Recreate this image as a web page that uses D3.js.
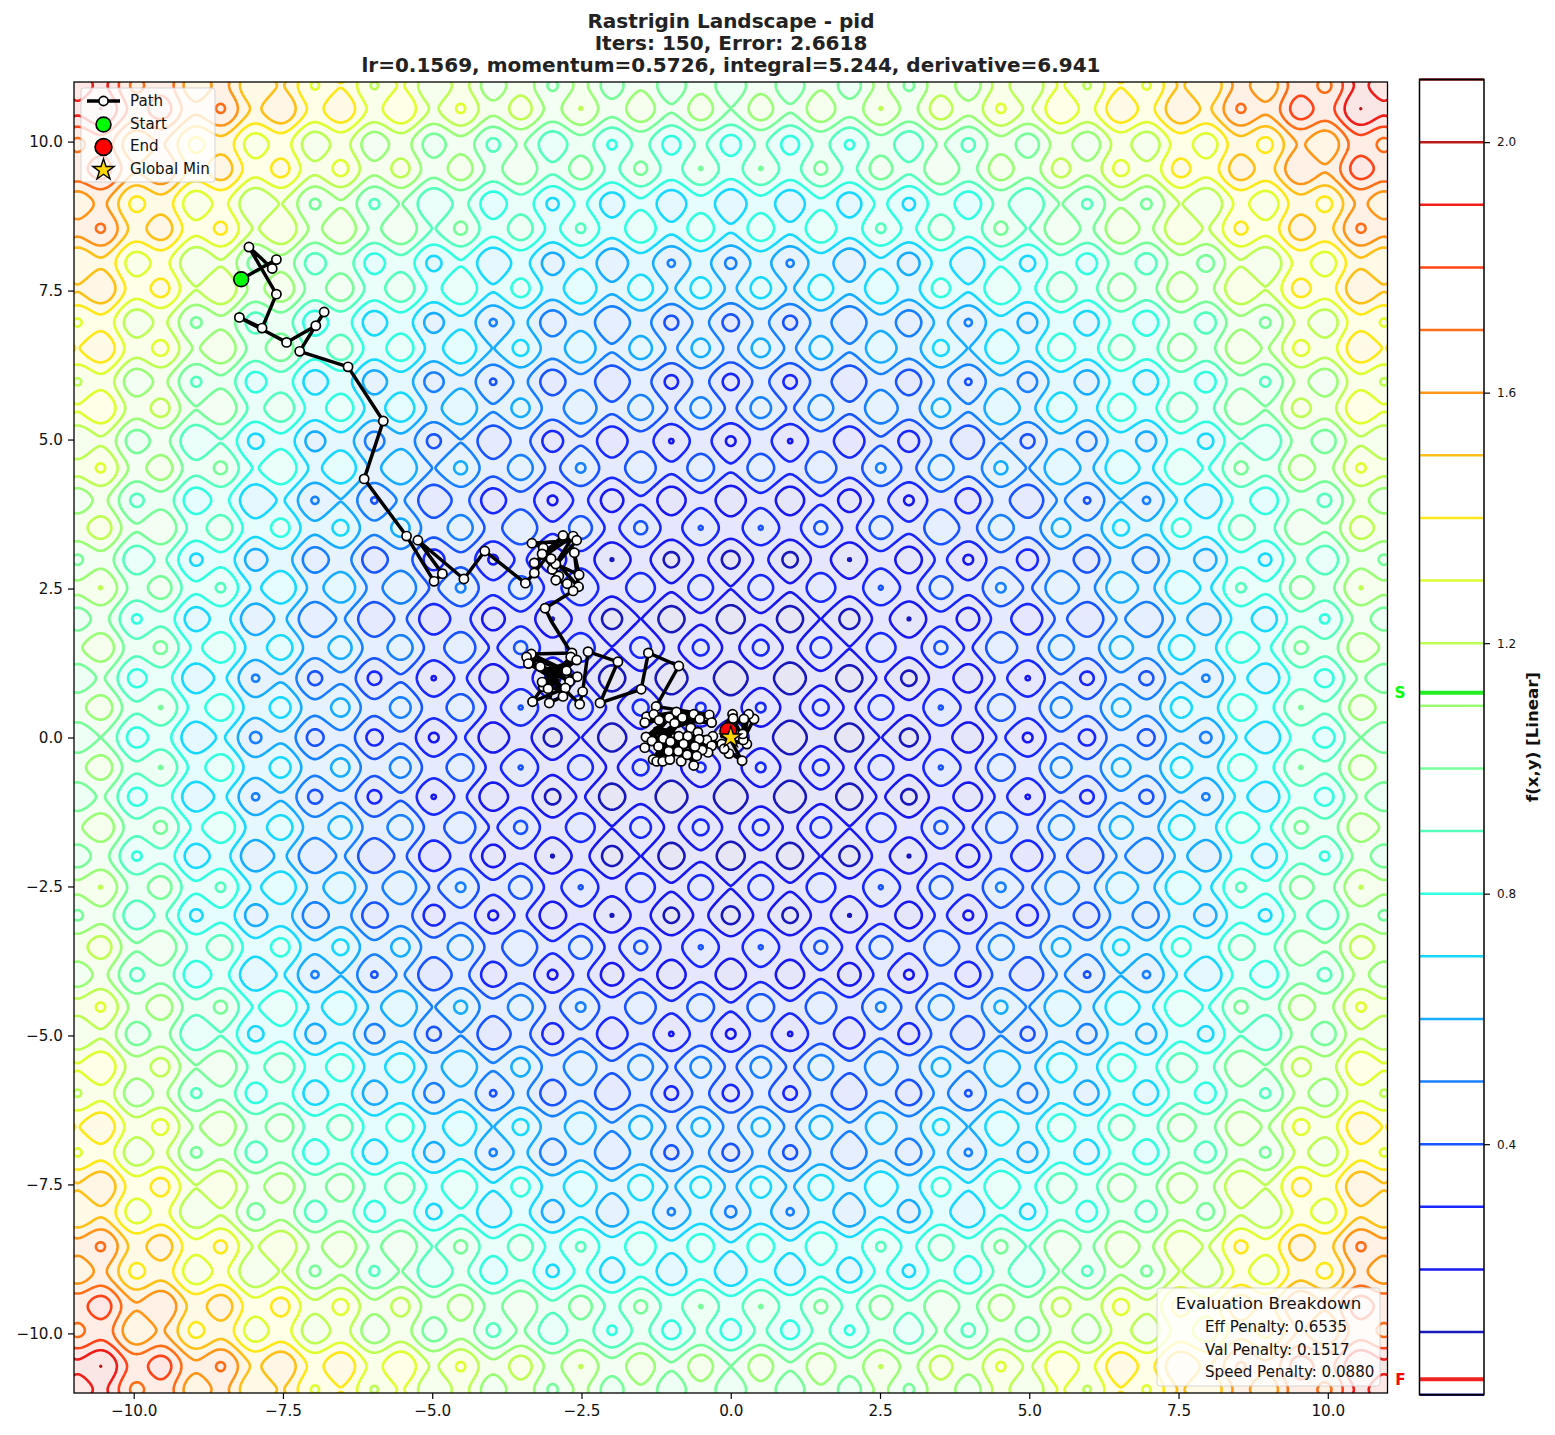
<!DOCTYPE html>
<html>
<head>
<meta charset="utf-8">
<script src="https://cdn.jsdelivr.net/npm/d3@7/dist/d3.min.js"></script>
<style>
  html, body { margin: 0; background: #fff; }
  text { font-family: "DejaVu Sans", sans-serif; fill: #111; }
</style>
</head>
<body>
<svg id="chart" width="1555" height="1435"></svg>
<script>
// Optimiser trajectory over the Rastrigin surface.
const titleLines = ["Rastrigin Landscape - pid", "Iters: 150, Error: 2.6618",
  "lr=0.1569, momentum=0.5726, integral=5.244, derivative=6.941"];

const pathX = [-8.20,-7.61,-7.68,-8.07,-7.61,-7.85,-8.23,-7.44,-6.95,-6.81,-7.22,-6.41,-5.82,-6.14,-5.43,-4.97,-4.83,-5.24,-4.47,-4.12,-3.44,
  -3.29,-2.81,-3.29,-2.64,-2.99,-2.58,-3.33,-3.14,-2.55,-2.62,-2.54,-2.93,-3.16,-2.88,-3.01,-2.93,-2.74,-2.64,-3.11,-3.01,-2.73,
  -2.66,-3.34,-2.75,-3.42,-2.98,-3.39,-2.93,-2.68,-3.06,-2.58,-3.11,-2.57,-3.19,-2.70,-3.03,-3.14,-2.86,-3.16,-2.90,-3.06,-2.77,-3.32,-2.95,-3.04,-2.81,-3.00,-2.53,-2.48,
  -2.39,-1.89,-2.19,-1.50,-1.38,-0.87,-1.25,
  -0.36,-1.41,-0.91,-1.44,-0.62,-1.29,-0.32,-1.20,-0.52,-1.42,-1.03,-1.44,-0.81,-1.30,-0.94,-1.24,-0.67,-1.14,-0.55,-1.02,-1.32,-0.30,-1.13,-0.40,-1.01,-0.32,-1.21,-0.53,-1.04,-0.38,-0.87,-0.83,-0.72,-0.62,-0.79,-0.48,-0.88,-0.57,-0.60,-0.73,
  -1.19,-1.05,-1.27,-0.15,-0.03,-0.11,0.19,0.00,0.27,0.07,0.39,0.21,0.30,0.20,0.22,-0.10,0.03,-0.15,0.04,-0.04];
const pathY = [7.69,8.02,7.87,8.23,7.44,6.87,7.05,6.63,6.91,7.14,6.48,6.22,5.31,4.34,3.38,2.62,2.75,3.31,2.66,3.13,2.59,
  2.76,3.39,2.93,3.38,2.82,3.31,3.26,3.18,2.53,3.10,2.73,2.91,3.08,2.71,3.00,2.64,2.58,2.46,2.17,1.96,1.51,
  1.42,1.40,1.12,1.35,0.99,1.24,1.09,1.35,0.92,1.30,1.12,1.02,1.19,0.94,1.16,0.85,1.04,0.93,0.96,0.82,0.83,0.60,1.12,0.58,0.69,1.02,0.56,0.77,
  1.44,1.27,0.58,0.81,1.42,1.20,0.52,
  0.38,0.35,0.43,0.25,0.39,0.39,0.25,0.29,0.31,0.01,0.33,-0.17,0.33,-0.37,0.24,-0.40,0.16,-0.40,0.09,-0.37,-0.06,0.02,-0.02,-0.04,-0.07,-0.14,-0.15,-0.03,-0.23,-0.25,0.02,-0.40,0.02,-0.47,-0.11,-0.21,-0.23,-0.31,-0.15,-0.29,
  -0.22,0.12,0.15,-0.11,-0.27,-0.19,-0.39,-0.05,-0.11,0.25,0.31,-0.04,0.39,0.06,0.31,0.20,0.39,0.02,0.32,0.11];
// Path vertices drawn without a marker.
const unmarkedSteps = [40,41,46,48,50,52,56,58,60,64,67,117,118,119,124,126,132,134];

const globalMin = [0, 0];
const levelValues = [0,0.1,0.2,0.3,0.4,0.5,0.6,0.7,0.8,0.9,1.0,1.1,1.2,1.3,1.4,1.5,1.6,1.7,1.8,1.9,2.0,2.1];
const colorbarTicks = [0.4, 0.8, 1.2, 1.6, 2.0];
const axisTicks = [-10, -7.5, -5, -2.5, 0, 2.5, 5, 7.5, 10];
const startLevel = 1.121, endLevel = 0.0245;
const legendLabels = ["Path", "Start", "End", "Global Min"];
const breakdownTitle = "Evaluation Breakdown";
const breakdownLines = ["Eff Penalty: 0.6535", "Val Penalty: 0.1517", "Speed Penalty: 0.0880"];
const colorbarLabel = "f(x,y) [Linear]";

// Surface parameters: the stated test function, normalised by half its peak height.
const rastriginA = 10, normaliser = 130.8, gridStep = 0.025, gridLimit = 11.05;

const svg = d3.select("#chart");
const x = d3.scaleLinear([-11, 11], [74, 1387.5]);
const y = d3.scaleLinear([-11, 11], [1393, 82]);
const cbY = d3.scaleLinear([0, 2.1], [1394.7, 79.5]);

// matplotlib's jet segments
const chan = (d, r) => d3.scaleLinear(d, r).clamp(true);
const jetR = chan([0,.35,.66,.89,1],[0,0,1,1,.5]);
const jetG = chan([0,.125,.375,.64,.91,1],[0,0,1,1,0,0]);
const jetB = chan([0,.11,.34,.65,1],[.5,1,1,0,0]);
const jet = (level, alpha = 1) => {
  const t = level / 2.1;
  const mix = c => Math.round(255 * (1 - alpha) + 255 * c * alpha);
  return `rgb(${mix(jetR(t))},${mix(jetG(t))},${mix(jetB(t))})`;
};

// Sample the surface on a grid reaching just past the frame, so that the
// closing edges of the contour polygons fall outside the clip rectangle.
const n = Math.round(2 * gridLimit / gridStep) + 1;
const field = new Float64Array(n * n);
const rast = v => v * v + rastriginA - rastriginA * Math.cos(2 * Math.PI * v);
for (let j = 0; j < n; j++) for (let i = 0; i < n; i++) {
  field[j * n + i] = (rast(-gridLimit + i * gridStep) + rast(-gridLimit + j * gridStep)) / normaliser;
}
const contours = d3.contours().size([n, n]).thresholds(levelValues)(field);
const gridToX = c => x(-gridLimit + (c - 0.5) * gridStep);
const gridToY = c => y(-gridLimit + (c - 0.5) * gridStep);
const geo = d3.geoPath(d3.geoTransform({
  point(a, b) { this.stream.point(gridToX(a), gridToY(b)); }
}));

svg.append("defs").append("clipPath").attr("id", "frame").append("rect")
  .attr("x", x(-11)).attr("y", y(11)).attr("width", x(11) - x(-11)).attr("height", y(-11) - y(11));

const plot = svg.append("g").attr("clip-path", "url(#frame)");
plot.append("g").selectAll("path").data(contours).join("path")
  .attr("d", geo)
  .attr("fill", (d, i) => jet((levelValues[i] + (levelValues[i + 1] ?? 2.2)) / 2, 0.1));
plot.append("g").selectAll("path").data(contours).join("path")
  .attr("d", geo)
  .attr("fill", "none")
  .attr("stroke", d => jet(d.value))
  .attr("stroke-opacity", 0.9)
  .attr("stroke-width", 2.6)
  .attr("stroke-linejoin", "round");

// Trajectory
const line = d3.line().x(d => x(d[0])).y(d => y(d[1]));
const pts = pathX.map((v, i) => [v, pathY[i]]);
const hidden = new Set(unmarkedSteps);
plot.append("path").attr("d", line(pts)).attr("fill", "none")
  .attr("stroke", "#000").attr("stroke-width", 3.5).attr("stroke-linejoin", "round");
plot.append("g").selectAll("circle").data(pts.filter((d, i) => !hidden.has(i))).join("circle")
  .attr("cx", d => x(d[0])).attr("cy", d => y(d[1])).attr("r", 4.6)
  .attr("fill", "#fff").attr("stroke", "#000").attr("stroke-width", 1.7);

const marker = (g, cx, cy, fill, r) => g.append("circle").attr("cx", cx).attr("cy", cy).attr("r", r)
  .attr("fill", fill).attr("stroke", "#000").attr("stroke-width", 1.7);
const star = (g, cx, cy, size) => g.append("path").attr("d", d3.symbol(d3.symbolStar, size)())
  .attr("transform", `translate(${cx},${cy})`)
  .attr("fill", "#ffd700").attr("stroke", "#000").attr("stroke-width", 1.4);
marker(plot, x(pts[0][0]), y(pts[0][1]), "#00ff00", 7.4);
marker(plot, x(pts[pts.length - 1][0]), y(pts[pts.length - 1][1]), "#ff0000", 8.4);
star(plot, x(globalMin[0]), y(globalMin[1]), 140);

// Frame and axes
svg.append("rect").attr("x", x(-11)).attr("y", y(11)).attr("width", x(11) - x(-11)).attr("height", y(-11) - y(11))
  .attr("fill", "none").attr("stroke", "#000").attr("stroke-width", 1.3);
const fmt = v => d3.format(".1f")(v).replace("-", "\u2212");
const xAxis = svg.append("g").attr("transform", `translate(0,${y(-11)})`)
  .call(d3.axisBottom(x).tickValues(axisTicks).tickFormat(fmt).tickSize(6).tickPadding(6));
const yAxis = svg.append("g").attr("transform", `translate(${x(-11)},0)`)
  .call(d3.axisLeft(y).tickValues(axisTicks).tickFormat(fmt).tickSize(6).tickPadding(5));
for (const a of [xAxis, yAxis]) {
  a.select(".domain").remove();
  a.selectAll("line").attr("stroke", "#000").attr("stroke-width", 1.2);
  a.selectAll("text").attr("font-size", 15.2).attr("fill", "#111")
    .style("font-family", '"DejaVu Sans", sans-serif');
}

// Title
svg.append("g").selectAll("text").data(titleLines).join("text")
  .attr("x", 731).attr("y", (d, i) => 27.5 + i * 22.2)
  .attr("text-anchor", "middle").attr("font-size", 20).attr("font-weight", "bold")
  .attr("fill", "#222").style("fill", "#222").text(d => d);

// Legend
const lg = svg.append("g");
lg.append("rect").attr("x", 81).attr("y", 88).attr("width", 134).attr("height", 94).attr("rx", 3)
  .attr("fill", "#fff").attr("fill-opacity", 0.8).attr("stroke", "#ccc").attr("stroke-opacity", 0.8);
lg.selectAll("text").data(legendLabels).join("text")
  .attr("x", 130).attr("y", (d, i) => 106 + i * 22.7).attr("font-size", 15.1).text(d => d);
lg.append("line").attr("x1", 87).attr("x2", 120).attr("y1", 101).attr("y2", 101)
  .attr("stroke", "#000").attr("stroke-width", 3.5);
lg.append("circle").attr("cx", 103.5).attr("cy", 101).attr("r", 4.6)
  .attr("fill", "#fff").attr("stroke", "#000").attr("stroke-width", 1.7);
marker(lg, 103.5, 124.5, "#00ff00", 7.4);
marker(lg, 103.5, 147, "#ff0000", 8.4);
star(lg, 103.5, 170, 140);

// Evaluation box
const bd = svg.append("g");
bd.append("rect").attr("x", 1157).attr("y", 1288).attr("width", 223).attr("height", 98).attr("rx", 3)
  .attr("fill", "#fff").attr("fill-opacity", 0.8).attr("stroke", "#ccc").attr("stroke-opacity", 0.8);
bd.append("text").attr("x", 1268.5).attr("y", 1309).attr("text-anchor", "middle")
  .attr("font-size", 16.6).text(breakdownTitle);
bd.selectAll(".row").data(breakdownLines).join("text").attr("class", "row")
  .attr("x", 1205).attr("y", (d, i) => 1332 + i * 22.7).attr("font-size", 15.1).text(d => d);

// Colourbar
const cb = svg.append("g");
const cbLeft = 1419.5, cbRight = 1484;
cb.selectAll(".lv").data(levelValues).join("line").attr("class", "lv")
  .attr("x1", cbLeft).attr("x2", cbRight).attr("y1", d => cbY(d)).attr("y2", d => cbY(d))
  .attr("stroke", d => jet(d)).attr("stroke-opacity", 0.9).attr("stroke-width", 2.5);
cb.append("line").attr("x1", cbLeft).attr("x2", cbRight).attr("y1", cbY(startLevel)).attr("y2", cbY(startLevel))
  .attr("stroke", "#22ee22").attr("stroke-width", 4);
cb.append("line").attr("x1", cbLeft).attr("x2", cbRight).attr("y1", cbY(endLevel)).attr("y2", cbY(endLevel))
  .attr("stroke", "#ee2222").attr("stroke-width", 4);
cb.append("rect").attr("x", cbLeft).attr("y", cbY(2.1)).attr("width", cbRight - cbLeft).attr("height", cbY(0) - cbY(2.1))
  .attr("fill", "none").attr("stroke", "#000").attr("stroke-width", 1.5);
const cbAxis = cb.append("g").attr("transform", `translate(${cbRight},0)`)
  .call(d3.axisRight(cbY).tickValues(colorbarTicks).tickFormat(d3.format(".1f")).tickSize(6).tickPadding(7));
cbAxis.select(".domain").remove();
cbAxis.selectAll("line").attr("stroke", "#000").attr("stroke-width", 1.2);
cbAxis.selectAll("text").attr("font-size", 12).attr("fill", "#111")
  .style("font-family", '"DejaVu Sans", sans-serif');
cb.append("text").attr("x", 1400).attr("y", cbY(startLevel) + 5.5).attr("text-anchor", "middle")
  .attr("font-size", 15.2).attr("font-weight", "bold").style("fill", "#00ff00").text("S");
cb.append("text").attr("x", 1400.5).attr("y", cbY(endLevel) + 5.5).attr("text-anchor", "middle")
  .attr("font-size", 15.2).attr("font-weight", "bold").style("fill", "#ff0000").text("F");
cb.append("text").attr("transform", "translate(1538,737) rotate(-90)").attr("text-anchor", "middle")
  .attr("font-size", 16.6).attr("font-weight", "bold").text(colorbarLabel);
</script>
</body>
</html>
